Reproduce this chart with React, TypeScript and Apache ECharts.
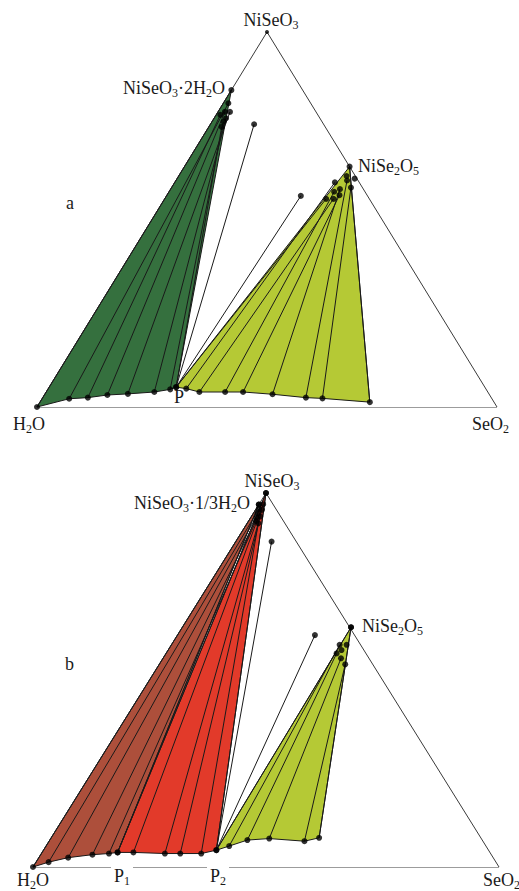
import React, { useEffect, useRef } from "react";
import * as echarts from "echarts";

// All compositions are ternary mass fractions: [SeO2 %, NiSeO3 %] (H2O = remainder)
type TP = [number, number];

const VERTEX_H2O: TP = [0, 0];
const VERTEX_SEO2: TP = [100, 0];
const VERTEX_NISEO3: TP = [0, 100];

// ---------- Panel a ----------
const aSolidDihydrate: TP = [0, 84.5];
const aSolidNiSe2O5: TP = [35.9, 64.1];
const aLiquidDihydrate: TP[] = [
  [0, 0], [5.9, 2.2], [9.8, 2.5], [13.7, 3.2], [18.0, 3.5], [23.5, 4.0], [26.6, 4.7], [27.6, 5.3],
];
const aResidueDihydrate: TP[] = [
  [0, 84.5], [1.1, 81.0], [0.9, 77.9], [1.5, 78.7], [2.6, 78.7], [2.6, 77.0], [2.5, 76.1], [2.8, 74.7],
];
const aLiquidNiSe2O5: TP[] = [
  [27.6, 5.3], [30.0, 4.9], [33.3, 4.0], [38.9, 4.0], [42.8, 4.0], [49.5, 3.4], [57.2, 2.5], [60.9, 2.3], [71.7, 1.3],
];
const aResidueNiSe2O5: TP[] = [
  [35.1, 55.5], [34.8, 59.9], [36.7, 55.5], [35.9, 57.4], [37.5, 56.5], [36.8, 58.1], [37.2, 60.4], [39.0, 58.5], [35.9, 64.1],
];
const aExtraResidues: TP[] = [[36.5, 61.6], [38.6, 60.9]];
const aPointP: TP = [27.6, 5.3];
const aInvariantResidues: TP[] = [[9.5, 75.4], [29.2, 56.3]];

// ---------- Panel b ----------
const bSolidHydrate: TP = [0, 96.9];
const bSolidAnhydrous: TP = [0, 100];
const bSolidNiSe2O5: TP = [36.2, 64.1];
const bLiquidHydrate: TP[] = [
  [0, 0], [2.7, 1.3], [6.3, 2.5], [11.1, 3.3], [14.5, 3.6], [16.2, 3.9],
];
const bResidueHydrate: TP[] = [
  [0, 96.9], [0.6, 95.8], [1.0, 94.6], [1.3, 93.4], [1.6, 92.5], [0, 96.9],
];
const bLiquidAnhydrous: TP[] = [
  [16.2, 3.9], [19.6, 3.9], [26.5, 3.6], [29.8, 3.6], [34.3, 3.6], [37.1, 4.5],
];
const bResidueAnhydrous: TP[] = [
  [0, 100], [0.9, 97.0], [1.4, 95.5], [1.9, 93.7], [2.4, 91.9], [0, 100],
];
const bLiquidNiSe2O5: TP[] = [
  [37.1, 4.5], [39.3, 5.6], [42.4, 7.2], [46.9, 7.6], [54.8, 6.9], [57.5, 7.8],
];
const bResidueNiSe2O5: TP[] = [
  [36.2, 64.1], [36.1, 59.4], [36.6, 57.1], [38.2, 55.8], [39.9, 54.2], [36.2, 64.1],
];
const bExtraResidues: TP[] = [[37.6, 59.4], [37.2, 58.0]];
const bPointP2: TP = [37.1, 4.5];
const bInvariantResidues: TP[] = [[7.7, 87.0], [29.5, 62.0]];

// colours
const GREEN = "#35703e";
const YELLOW = "#b5c935";
const BROWN = "#ad4f3b";
const RED = "#e23a2a";
const INK = "#1a1a1a";

const toXY = (p: TP): number[] => [p[0] + p[1] / 2, p[1]];

const FONT = "Liberation Serif";
const rich = {
  m: { fontSize: 18, fontFamily: FONT, lineHeight: 22, fill: INK, color: INK },
  s: { fontSize: 12, fontFamily: FONT, lineHeight: 12, verticalAlign: "bottom", fill: INK, color: INK },
};
const chem = (t: string) =>
  ("{m|" + t.replace(/_([0-9])/g, "}{s|$1}{m|") + "}").replace(/\{m\|\}/g, "");

function label(text: string, x: number, y: number, align: string, bg = false) {
  return {
    type: "text",
    x,
    y,
    z: 100,
    style: {
      text: chem(text),
      rich,
      fontFamily: FONT,
      fontSize: 18,
      fill: INK,
      align,
      verticalAlign: "middle",
      textAlign: align,
      textVerticalAlign: "middle",
      backgroundColor: bg ? "#ffffff" : undefined,
      padding: bg ? [0, 3, 0, 3] : 0,
    },
  };
}

function polygonSeries(g: number, polys: { pts: TP[]; color: string }[]) {
  return {
    type: "custom",
    coordinateSystem: "cartesian2d",
    xAxisIndex: g,
    yAxisIndex: g,
    silent: true,
    z: 1,
    data: polys.map((p, i) => [...toXY(p.pts[0]), i]),
    encode: { x: 0, y: 1 },
    renderItem: (params: any, api: any) => {
      const p = polys[params.dataIndex];
      return {
        type: "polygon",
        shape: { points: p.pts.map((q) => api.coord(toXY(q))) },
        style: { fill: p.color, stroke: INK, lineWidth: 1 },
      };
    },
  };
}

function segSeries(g: number, segs: TP[][], color: string, width: number, z: number) {
  return {
    type: "lines",
    coordinateSystem: "cartesian2d",
    xAxisIndex: g,
    yAxisIndex: g,
    silent: true,
    z,
    lineStyle: { color, width, opacity: 1, type: "solid" },
    data: segs.map((s) => ({ coords: [toXY(s[0]), toXY(s[1])] })),
  };
}

function dotSeries(g: number, pts: TP[], size: number) {
  return {
    type: "scatter",
    xAxisIndex: g,
    yAxisIndex: g,
    silent: true,
    z: 5,
    symbol: "circle",
    symbolSize: size,
    itemStyle: { color: "#000" },
    data: pts.map(toXY),
  };
}

const pairs = (a: TP[], b: TP[]) => a.map((p, i) => [p, b[i]]);
const triangleEdges: TP[][] = [
  [VERTEX_H2O, VERTEX_SEO2],
  [VERTEX_SEO2, VERTEX_NISEO3],
  [VERTEX_NISEO3, VERTEX_H2O],
];

export default function App() {
  const ref = useRef<HTMLDivElement>(null);
  useEffect(() => {
    if (!ref.current) return;
    const chart = echarts.init(ref.current, undefined, { renderer: "svg" });
    const axisOff = { type: "value", min: 0, max: 100, show: false };
    const option = {
      animation: false,
      backgroundColor: "#ffffff",
      grid: [
        { left: 37, top: 32, width: 460, height: 375 },
        { left: 33, top: 493, width: 466, height: 374 },
      ],
      xAxis: [{ ...axisOff, gridIndex: 0 }, { ...axisOff, gridIndex: 1 }],
      yAxis: [{ ...axisOff, gridIndex: 0 }, { ...axisOff, gridIndex: 1 }],
      series: [
        // panel a
        polygonSeries(0, [
          { pts: [...aLiquidDihydrate, aSolidDihydrate], color: GREEN },
          { pts: [...aLiquidNiSe2O5, aSolidNiSe2O5], color: YELLOW },
        ]),
        segSeries(0, triangleEdges, "#3a3a3a", 1, 2),
        segSeries(
          0,
          [
            ...pairs(aLiquidDihydrate, aResidueDihydrate),
            ...pairs(aLiquidNiSe2O5, aResidueNiSe2O5),
            ...aInvariantResidues.map((r) => [aPointP, r]),
          ],
          INK,
          1,
          3
        ),
        dotSeries(0, [
          ...aLiquidDihydrate,
          ...aLiquidNiSe2O5,
          ...aResidueDihydrate,
          ...aResidueNiSe2O5,
          ...aExtraResidues,
          ...aInvariantResidues,
        ], 6),
        dotSeries(0, [VERTEX_NISEO3], 4),
        // panel b
        polygonSeries(1, [
          { pts: [...bLiquidHydrate, bSolidHydrate], color: BROWN },
          { pts: [...bLiquidAnhydrous, bSolidAnhydrous], color: RED },
          { pts: [...bLiquidNiSe2O5, bSolidNiSe2O5], color: YELLOW },
        ]),
        segSeries(1, triangleEdges, "#3a3a3a", 1, 2),
        segSeries(
          1,
          [
            ...pairs(bLiquidHydrate, bResidueHydrate),
            ...pairs(bLiquidAnhydrous, bResidueAnhydrous),
            ...pairs(bLiquidNiSe2O5, bResidueNiSe2O5),
            ...bInvariantResidues.map((r) => [bPointP2, r]),
          ],
          INK,
          1,
          3
        ),
        dotSeries(1, [
          ...bLiquidHydrate,
          ...bLiquidAnhydrous,
          ...bLiquidNiSe2O5,
          ...bResidueHydrate,
          ...bResidueAnhydrous,
          ...bResidueNiSe2O5,
          ...bExtraResidues,
          ...bInvariantResidues,
        ], 6),
      ],
      graphic: [
        label("NiSeO_3", 271, 20, "center"),
        label("NiSeO_3·2H_2O", 225, 88, "right"),
        label("NiSe_2O_5", 358, 166, "left"),
        label("a", 66, 203, "left"),
        label("P", 179, 397, "center"),
        label("H_2O", 13, 424, "left"),
        label("SeO_2", 472, 424, "left"),
        label("NiSeO_3", 272, 481, "center"),
        label("NiSeO_3·1/3H_2O", 250, 503, "right"),
        label("NiSe_2O_5", 362, 626, "left"),
        label("b", 65, 664, "left"),
        label("P_1", 111, 876, "left", true),
        label("P_2", 207, 876, "left", true),
        label("H_2O", 17, 880, "left"),
        label("SeO_2", 483, 880, "left"),
      ],
    };
    chart.setOption(option as any);
    return () => chart.dispose();
  }, []);
  return (
    <div
      ref={ref}
      style={{ position: "absolute", left: 0, top: 0, width: 519, height: 891, background: "#fff" }}
    />
  );
}
